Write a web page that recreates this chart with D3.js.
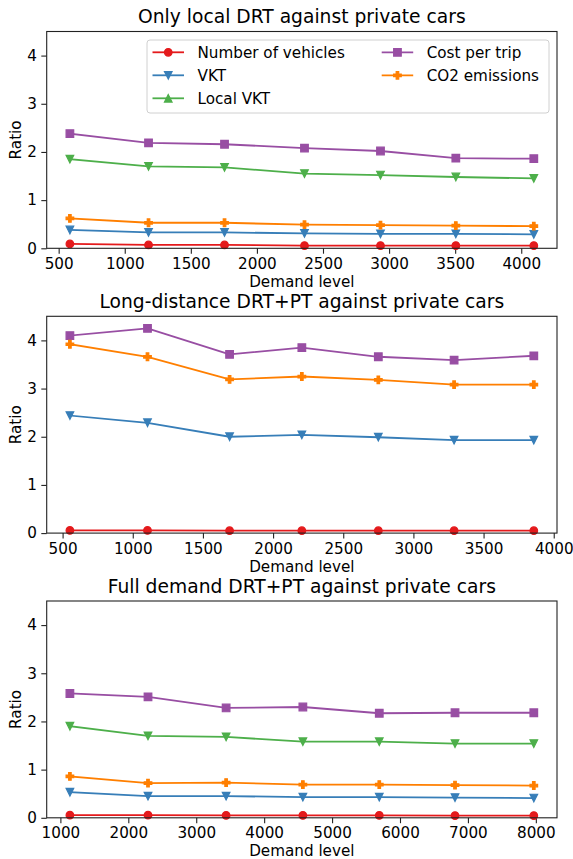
<!DOCTYPE html>
<html>
<head>
<meta charset="utf-8">
<script src="https://cdn.jsdelivr.net/npm/d3@7"></script>
<style>
  html, body { margin: 0; padding: 0; background: #fff; }
  svg { display: block; font-family: "DejaVu Sans", sans-serif; }
</style>
</head>
<body>
<svg id="chart" width="573" height="859"></svg>
<script>
// ---------------- DATA ----------------
const seriesNames = ["Number of vehicles", "VKT", "Local VKT", "Cost per trip", "CO2 emissions"];
const panelTitles = [
  "Only local DRT against private cars",
  "Long-distance DRT+PT against private cars",
  "Full demand DRT+PT against private cars"
];
const xLabel = "Demand level";
const yLabel = "Ratio";
const yTicks = [0, 1, 2, 3, 4];
const xTicks1 = [500, 1000, 1500, 2000, 2500, 3000, 3500, 4000];
const xTicks2 = [500, 1000, 1500, 2000, 2500, 3000, 3500, 4000];
const xTicks3 = [1000, 2000, 3000, 4000, 5000, 6000, 7000, 8000];

// Panel 1: only local DRT
const demand1   = [585, 1180, 1755, 2360, 2935, 3505, 4095];
const vehicles1 = [0.09, 0.07, 0.07, 0.055, 0.055, 0.055, 0.055];
const vkt1      = [0.38, 0.33, 0.33, 0.31, 0.30, 0.30, 0.29];
const localVkt1 = [1.85, 1.70, 1.68, 1.55, 1.52, 1.48, 1.45];
const cost1     = [2.38, 2.19, 2.16, 2.08, 2.02, 1.87, 1.86];
const co2_1     = [0.62, 0.53, 0.53, 0.49, 0.48, 0.47, 0.46];

// Panel 2: long-distance DRT+PT (no local VKT)
const demand2   = [552, 1105, 1690, 2205, 2750, 3290, 3858];
const vehicles2 = [0.055, 0.055, 0.05, 0.05, 0.05, 0.05, 0.05];
const vkt2      = [2.44, 2.29, 2.00, 2.04, 1.99, 1.93, 1.93];
const cost2     = [4.10, 4.25, 3.71, 3.85, 3.66, 3.59, 3.68];
const co2_2     = [3.92, 3.66, 3.19, 3.25, 3.18, 3.08, 3.08];

// Panel 3: full demand DRT+PT
const demand3   = [1140, 2290, 3440, 4570, 5695, 6810, 7970];
const vehicles3 = [0.055, 0.055, 0.05, 0.05, 0.05, 0.045, 0.045];
const vkt3      = [0.53, 0.45, 0.45, 0.43, 0.43, 0.42, 0.41];
const localVkt3 = [1.90, 1.70, 1.68, 1.58, 1.58, 1.54, 1.54];
const cost3     = [2.58, 2.51, 2.28, 2.30, 2.17, 2.18, 2.18];
const co2_3     = [0.86, 0.72, 0.73, 0.69, 0.69, 0.68, 0.67];

// ---------------- STYLE ----------------
const colors = ["#e41a1c", "#377eb8", "#4daf4a", "#984ea3", "#ff7f00"];
const plotMarkers = ["circle", "tri-down", "tri-down", "square", "plus"];
const legendMarkers = ["circle", "tri-down", "tri-up", "square", "plus"];

const panels = [
  { title: panelTitles[0], x: demand1, ticks: xTicks1,
    series: [vehicles1, vkt1, localVkt1, cost1, co2_1], legend: true },
  { title: panelTitles[1], x: demand2, ticks: xTicks2,
    series: [vehicles2, vkt2, null, cost2, co2_2], legend: false },
  { title: panelTitles[2], x: demand3, ticks: xTicks3,
    series: [vehicles3, vkt3, localVkt3, cost3, co2_3], legend: false }
];

const svg = d3.select("#chart");
const left = 46.7, right = 557;
const tops = [31.5, 316.3, 601];
const plotH = 216.8;
const fs = 15.2, titleFs = 18.7;
const ms = 7.6;
const lw = 1.8;

function markerPath(type, size) {
  const h = size / 2;
  switch (type) {
    case "circle":
      return d3.symbol(d3.symbolCircle, Math.PI * h * h)();
    case "square":
      return `M${-h},${-h}H${h}V${h}H${-h}Z`;
    case "tri-down":
      return `M0,${h}L${-h},${-h}L${h},${-h}Z`;
    case "tri-up":
      return `M0,${-h}L${-h},${h}L${h},${h}Z`;
    case "plus": {
      const a = size / 6;
      return `M${-a},${-h}H${a}V${-a}H${h}V${a}H${a}V${h}H${-a}V${a}H${-h}V${-a}H${-a}Z`;
    }
  }
}

panels.forEach((p, pi) => {
  const top = tops[pi];
  const bottom = top + plotH;
  const ext = d3.extent(p.x);
  const pad = (ext[1] - ext[0]) * 0.05;
  const x = d3.scaleLinear().domain([ext[0] - pad, ext[1] + pad]).range([left, right]);
  const y = d3.scaleLinear().domain([0, 4.5]).range([bottom, top]);

  const g = svg.append("g");

  // x axis
  const xa = g.append("g").attr("transform", `translate(0,${bottom})`)
    .call(d3.axisBottom(x).tickValues(p.ticks).tickSize(5.4).tickPadding(4.5).tickFormat(d3.format("d")));
  xa.select(".domain").remove();
  xa.selectAll("line").attr("stroke", "#222").attr("stroke-width", 1.1);
  xa.selectAll("text").attr("font-size", fs).attr("fill", "#000")
    .attr("font-family", "DejaVu Sans, sans-serif");

  // y axis
  const ya = g.append("g").attr("transform", `translate(${left},0)`)
    .call(d3.axisLeft(y).tickValues(yTicks).tickSize(5.4).tickPadding(4.5).tickFormat(d3.format("d")));
  ya.select(".domain").remove();
  ya.selectAll("line").attr("stroke", "#222").attr("stroke-width", 1.1);
  ya.selectAll("text").attr("font-size", fs).attr("fill", "#000")
    .attr("font-family", "DejaVu Sans, sans-serif");

  // series
  const line = d3.line().x(d => x(d[0])).y(d => y(d[1]));
  p.series.forEach((vals, si) => {
    if (!vals) return;
    const pts = p.x.map((xv, i) => [xv, vals[i]]);
    g.append("path").datum(pts).attr("d", line)
      .attr("fill", "none").attr("stroke", colors[si]).attr("stroke-width", lw)
      .attr("stroke-linejoin", "round").attr("stroke-linecap", "square");
    g.selectAll(null).data(pts).enter().append("path")
      .attr("transform", d => `translate(${x(d[0])},${y(d[1])})`)
      .attr("d", markerPath(plotMarkers[si], ms))
      .attr("fill", colors[si]).attr("stroke", colors[si]).attr("stroke-width", 1.2)
      .attr("stroke-linejoin", "miter");
  });

  // frame
  g.append("rect").attr("x", left).attr("y", top).attr("width", right - left).attr("height", plotH)
    .attr("fill", "none").attr("stroke", "#222").attr("stroke-width", 1.1);

  // title
  g.append("text").attr("x", (left + right) / 2).attr("y", top - 8.5)
    .attr("text-anchor", "middle").attr("font-size", titleFs).attr("fill", "#000").text(p.title);

  // x label
  g.append("text").attr("x", (left + right) / 2).attr("y", bottom + 38.5)
    .attr("text-anchor", "middle").attr("font-size", fs).attr("fill", "#000").text(xLabel);

  // y label
  g.append("text").attr("transform", `translate(21,${(top + bottom) / 2}) rotate(-90)`)
    .attr("text-anchor", "middle").attr("font-size", fs).attr("fill", "#000").text(yLabel);

  // legend
  if (p.legend) {
    const lg = g.append("g");
    lg.append("rect").attr("x", 147).attr("y", 40).attr("width", 402).attr("height", 73)
      .attr("rx", 3).attr("ry", 3)
      .attr("fill", "#fff").attr("fill-opacity", 0.8)
      .attr("stroke", "#d0d0d0").attr("stroke-width", 1);
    const cols = [{ lx: 152.5, tx: 197.5 }, { lx: 381.7, tx: 426.7 }];
    const rowY = [52.3, 75.3, 98.3];
    const placement = [[0, 0], [0, 1], [0, 2], [1, 0], [1, 1]];
    seriesNames.forEach((name, si) => {
      const [c, r] = placement[si];
      const cx = cols[c].lx, cy = rowY[r];
      lg.append("line").attr("x1", cx).attr("x2", cx + 31.5).attr("y1", cy).attr("y2", cy)
        .attr("stroke", colors[si]).attr("stroke-width", lw);
      lg.append("path").attr("transform", `translate(${cx + 15.75},${cy})`)
        .attr("d", markerPath(legendMarkers[si], ms))
        .attr("fill", colors[si]).attr("stroke", colors[si]).attr("stroke-width", 1.2);
      lg.append("text").attr("x", cols[c].tx).attr("y", cy + 5.6)
        .attr("font-size", fs).attr("fill", "#000").text(name);
    });
  }
});
</script>
</body>
</html>
